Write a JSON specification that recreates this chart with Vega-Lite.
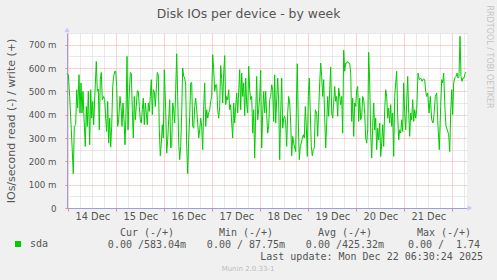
{
  "$schema": "https://vega.github.io/schema/vega-lite/v6.json",
  "width": 400,
  "height": 175,
  "autosize": {"type": "none"},
  "padding": {"left": 67, "top": 33, "right": 30, "bottom": 72},
  "background": "#f0f0f0",
  "config": {
    "view": {"fill": "white", "stroke": null},
    "font": "DejaVu Sans",
    "axis": {"labelFont": "DejaVu Sans", "titleFont": "DejaVu Sans", "labelColor": "#555555", "titleColor": "#555555", "titleFontWeight": "normal", "labelFlush": false, "labelOverlap": false}
  },
  "datasets": {
    "sda": [
      {"t":-0.65,"v":578},{"t":0.02,"v":571},{"t":0.68,"v":478},{"t":1.5,"v":335},{"t":2.5,"v":147},{"t":3.0,"v":350},{"t":3.7,"v":357},{"t":4.2,"v":507},{"t":4.7,"v":428},{"t":5.35,"v":571},{"t":5.85,"v":407},{"t":6.35,"v":536},{"t":6.85,"v":407},{"t":7.35,"v":500},{"t":7.85,"v":385},{"t":8.5,"v":264},{"t":9.0,"v":435},{"t":9.5,"v":350},{"t":10.0,"v":500},{"t":10.7,"v":271},{"t":11.2,"v":507},{"t":11.7,"v":385},{"t":12.2,"v":457},{"t":12.7,"v":357},{"t":13.35,"v":500},{"t":14.0,"v":628},{"t":14.5,"v":500},{"t":15.0,"v":510},{"t":15.5,"v":335},{"t":16.0,"v":550},{"t":16.5,"v":581},{"t":17.0,"v":464},{"t":17.7,"v":478},{"t":18.2,"v":464},{"t":18.7,"v":385},{"t":19.2,"v":328},{"t":19.7,"v":457},{"t":20.2,"v":278},{"t":20.7,"v":385},{"t":21.2,"v":261},{"t":21.7,"v":350},{"t":22.2,"v":521},{"t":22.7,"v":564},{"t":23.2,"v":586},
      {"t":23.7,"v":586},{"t":24.2,"v":521},{"t":24.7,"v":350},{"t":25.2,"v":378},{"t":25.85,"v":478},{"t":26.35,"v":435},{"t":26.85,"v":350},{"t":27.35,"v":450},{"t":27.85,"v":378},{"t":28.35,"v":271},{"t":28.85,"v":407},{"t":29.35,"v":650},{"t":29.85,"v":335},{"t":30.35,"v":464},{"t":31.0,"v":581},{"t":31.5,"v":578},{"t":32.0,"v":421},{"t":32.5,"v":300},{"t":33.0,"v":478},{"t":33.5,"v":378},{"t":34.0,"v":435},{"t":34.5,"v":503},{"t":35.0,"v":500},{"t":35.5,"v":435},{"t":36.0,"v":378},{"t":36.5,"v":364},{"t":37.0,"v":421},{"t":37.5,"v":471},{"t":38.0,"v":357},{"t":38.5,"v":450},{"t":39.0,"v":407},{"t":39.5,"v":357},{"t":40.0,"v":450},{"t":40.5,"v":414},{"t":41.0,"v":478},{"t":41.5,"v":550},{"t":42.0,"v":400},{"t":42.5,"v":507},{"t":43.0,"v":500},{"t":43.5,"v":435},{"t":44.0,"v":507},{"t":44.5,"v":581},{"t":45.0,"v":571},{"t":45.5,"v":335},{"t":46.0,"v":224},{"t":46.5,"v":278},{"t":47.0,"v":357},{"t":47.5,"v":300},{"t":48.0,"v":593},
      {"t":48.7,"v":421},{"t":49.2,"v":235},{"t":49.7,"v":292},{"t":50.2,"v":378},{"t":50.7,"v":464},{"t":51.2,"v":257},{"t":51.7,"v":264},{"t":52.2,"v":450},{"t":52.7,"v":421},{"t":53.2,"v":364},{"t":53.7,"v":507},{"t":54.2,"v":661},{"t":54.7,"v":478},{"t":55.2,"v":278},{"t":55.7,"v":207},{"t":56.2,"v":264},{"t":56.7,"v":407},{"t":57.2,"v":600},{"t":57.7,"v":564},{"t":58.2,"v":557},{"t":58.7,"v":528},{"t":59.2,"v":264},{"t":59.7,"v":147},{"t":60.2,"v":292},{"t":60.7,"v":393},{"t":61.2,"v":536},{"t":61.7,"v":538},{"t":62.2,"v":350},{"t":62.7,"v":342},{"t":63.2,"v":435},{"t":63.7,"v":471},{"t":64.2,"v":421},{"t":64.7,"v":364},{"t":65.2,"v":300},{"t":65.7,"v":335},{"t":66.2,"v":385},{"t":66.7,"v":350},{"t":67.2,"v":250},{"t":67.7,"v":435},{"t":68.2,"v":536},{"t":68.7,"v":350},{"t":69.2,"v":421},{"t":69.7,"v":385},{"t":70.2,"v":407},{"t":70.7,"v":421},{"t":71.2,"v":457},{"t":71.7,"v":478},{"t":72.2,"v":657},{"t":72.7,"v":593},{"t":73.2,"v":500},{"t":73.7,"v":528},
      {"t":74.2,"v":528},{"t":74.7,"v":421},{"t":75.2,"v":385},{"t":75.7,"v":435},{"t":76.2,"v":610},{"t":76.7,"v":550},{"t":77.2,"v":450},{"t":77.7,"v":578},{"t":78.2,"v":653},{"t":78.7,"v":443},{"t":79.2,"v":478},{"t":79.7,"v":464},{"t":80.2,"v":507},{"t":80.7,"v":421},{"t":81.2,"v":443},{"t":81.7,"v":364},{"t":82.2,"v":300},{"t":82.7,"v":450},{"t":83.2,"v":364},{"t":83.7,"v":435},{"t":84.2,"v":493},{"t":84.7,"v":407},{"t":85.2,"v":500},{"t":85.7,"v":593},{"t":86.2,"v":421},{"t":86.7,"v":578},{"t":87.2,"v":478},{"t":87.7,"v":536},{"t":88.2,"v":396},{"t":88.7,"v":557},{"t":89.2,"v":443},{"t":89.7,"v":407},{"t":90.2,"v":607},{"t":90.7,"v":507},{"t":91.2,"v":464},{"t":91.7,"v":478},{"t":92.2,"v":321},{"t":92.7,"v":421},{"t":93.2,"v":214},{"t":93.7,"v":407},{"t":94.2,"v":564},{"t":94.7,"v":378},{"t":95.2,"v":421},{"t":95.7,"v":478},{"t":96.2,"v":590},{"t":96.7,"v":257},{"t":97.2,"v":407},{"t":97.7,"v":500},{"t":98.2,"v":407},{"t":98.7,"v":500},
      {"t":99.2,"v":400},{"t":99.7,"v":321},{"t":100.2,"v":350},{"t":100.7,"v":464},{"t":101.2,"v":478},{"t":101.7,"v":528},{"t":102.2,"v":507},{"t":102.7,"v":371},{"t":103.2,"v":571},{"t":103.7,"v":364},{"t":104.2,"v":464},{"t":104.7,"v":557},{"t":105.2,"v":450},{"t":105.7,"v":207},{"t":106.2,"v":407},{"t":106.7,"v":557},{"t":107.2,"v":342},{"t":107.7,"v":385},{"t":108.2,"v":393},{"t":108.7,"v":364},{"t":109.2,"v":264},{"t":109.7,"v":407},{"t":110.2,"v":478},{"t":110.7,"v":450},{"t":111.2,"v":364},{"t":111.7,"v":224},{"t":112.2,"v":307},{"t":112.7,"v":278},{"t":113.2,"v":257},{"t":113.7,"v":242},{"t":114.2,"v":507},{"t":114.5,"v":618},{"t":115.0,"v":364},{"t":115.5,"v":207},{"t":116.0,"v":264},{"t":116.5,"v":278},{"t":117.0,"v":300},{"t":117.5,"v":314},{"t":118.0,"v":300},{"t":118.5,"v":435},{"t":119.0,"v":350},{"t":119.5,"v":221},{"t":120.0,"v":478},{"t":120.5,"v":557},{"t":121.0,"v":407},{"t":121.5,"v":264},{"t":122.0,"v":224},{"t":122.5,"v":250},{"t":123.0,"v":257},{"t":123.5,"v":421},
      {"t":124.2,"v":407},{"t":124.7,"v":307},{"t":125.2,"v":421},{"t":125.7,"v":536},{"t":126.2,"v":621},{"t":126.7,"v":564},{"t":127.2,"v":478},{"t":127.7,"v":550},{"t":128.2,"v":385},{"t":128.7,"v":257},{"t":129.2,"v":364},{"t":129.7,"v":478},{"t":130.2,"v":393},{"t":130.7,"v":507},{"t":131.2,"v":604},{"t":131.7,"v":407},{"t":132.2,"v":385},{"t":132.7,"v":450},{"t":133.2,"v":521},{"t":133.7,"v":457},{"t":134.2,"v":478},{"t":134.7,"v":393},{"t":135.2,"v":514},{"t":135.7,"v":478},{"t":136.2,"v":443},{"t":136.7,"v":478},{"t":137.2,"v":321},{"t":137.7,"v":676},{"t":138.2,"v":586},{"t":138.7,"v":621},{"t":139.2,"v":621},{"t":139.7,"v":628},{"t":140.2,"v":621},{"t":140.7,"v":621},{"t":141.2,"v":578},{"t":141.7,"v":371},{"t":142.2,"v":471},{"t":142.7,"v":307},{"t":143.2,"v":450},{"t":143.7,"v":435},{"t":144.2,"v":507},{"t":144.7,"v":521},{"t":145.2,"v":371},{"t":145.7,"v":471},{"t":146.2,"v":378},{"t":146.7,"v":393},{"t":147.2,"v":478},{"t":147.7,"v":464},{"t":148.2,"v":407},
      {"t":148.7,"v":300},{"t":149.2,"v":278},{"t":149.7,"v":335},{"t":150.2,"v":667},{"t":150.7,"v":536},{"t":151.2,"v":321},{"t":151.7,"v":214},{"t":152.2,"v":350},{"t":152.7,"v":450},{"t":153.2,"v":335},{"t":153.7,"v":385},{"t":154.2,"v":250},{"t":154.7,"v":342},{"t":155.2,"v":292},{"t":155.7,"v":364},{"t":156.2,"v":221},{"t":156.7,"v":278},{"t":157.2,"v":357},{"t":157.7,"v":264},{"t":158.2,"v":421},{"t":158.7,"v":507},{"t":159.2,"v":478},{"t":159.7,"v":385},{"t":160.2,"v":428},{"t":160.7,"v":364},{"t":161.2,"v":443},{"t":161.7,"v":350},{"t":162.2,"v":407},{"t":162.7,"v":221},{"t":163.2,"v":478},{"t":163.7,"v":536},{"t":164.2,"v":586},{"t":164.7,"v":393},{"t":165.2,"v":292},{"t":165.7,"v":335},{"t":166.2,"v":321},{"t":166.7,"v":378},{"t":167.2,"v":328},{"t":167.7,"v":536},{"t":168.2,"v":407},{"t":168.7,"v":335},{"t":169.2,"v":450},{"t":169.7,"v":564},{"t":170.2,"v":407},{"t":170.7,"v":307},{"t":171.2,"v":407},{"t":171.7,"v":378},{"t":172.2,"v":464},{"t":172.7,"v":371},{"t":173.2,"v":421},{"t":173.7,"v":385},{"t":174.2,"v":421},
      {"t":174.85,"v":578},{"t":175.5,"v":550},{"t":176.2,"v":557},{"t":176.85,"v":543},{"t":177.5,"v":553},{"t":178.2,"v":550},{"t":178.7,"v":500},{"t":179.2,"v":478},{"t":179.7,"v":493},{"t":180.35,"v":407},{"t":181.0,"v":478},{"t":181.7,"v":378},{"t":182.35,"v":364},{"t":182.85,"v":400},{"t":183.5,"v":478},{"t":184.2,"v":493},{"t":184.85,"v":350},{"t":185.5,"v":250},{"t":186.2,"v":435},{"t":186.7,"v":550},{"t":187.2,"v":536},{"t":187.7,"v":578},{"t":188.35,"v":421},{"t":188.85,"v":350},{"t":189.5,"v":335},{"t":190.2,"v":314},{"t":190.7,"v":242},{"t":191.2,"v":407},{"t":191.7,"v":507},{"t":192.2,"v":400},{"t":192.7,"v":536},{"t":193.2,"v":557},{"t":193.85,"v":564},{"t":194.35,"v":578},{"t":194.85,"v":557},{"t":195.35,"v":564},{"t":195.85,"v":736},{"t":196.35,"v":564},{"t":196.85,"v":543},{"t":197.35,"v":557},{"t":197.85,"v":557},{"t":198.35,"v":576},{"t":198.85,"v":583}
    ],
    "legendTable": [
      {"line": "head", "col": "Cur", "label": "Cur (-/+)"},
      {"line": "head", "col": "Min", "label": "Min (-/+)"},
      {"line": "head", "col": "Avg", "label": "Avg (-/+)"},
      {"line": "head", "col": "Max", "label": "Max (-/+)"},
      {"line": "vals", "col": "Cur", "label": "0.00 /583.04m"},
      {"line": "vals", "col": "Min", "label": "0.00 / 87.75m"},
      {"line": "vals", "col": "Avg", "label": "0.00 /425.32m"},
      {"line": "vals", "col": "Max", "label": "0.00 / \u00a01.74"},
      {"line": "update", "col": "Max", "label": "Last update: Mon Dec 22 06:30:24 2025"},
      {"line": "version", "col": "Min", "label": "Munin 2.0.33-1"}
    ]
  },
  "layer": [
    {
      "layer": [
        {
          "data": {"name": "sda"},
          "mark": {"type": "line", "strokeWidth": 1, "interpolate": "linear"},
          "encoding": {
            "x": {
              "field": "t", "type": "quantitative",
              "scale": {"domain": [-0.65, 199.35], "nice": false, "zero": false},
              "axis": {
                "orient": "bottom", "title": null,
                "values": [0, 24, 48, 72, 96, 120, 144, 168, 192],
                "labelExpr": "datum.value < 190 ? (14 + datum.value / 24) + ' Dec' : ''",
                "labelOffset": 24, "labelFontSize": 9.8, "labelBaseline": "top", "labelPadding": 0,
                "tickSize": 3, "tickColor": "#ee8888",
                "domainColor": "#9f9fd0",
                "grid": true, "gridColor": "#f3a6a6", "gridDash": [1, 1]
              }
            },
            "y": {
              "field": "v", "type": "quantitative",
              "scale": {"domain": [0, 750], "nice": false},
              "axis": {
                "orient": "left",
                "title": "IOs/second read (-) / write (+)", "titleFontSize": 11, "titleX": -56, "titleBaseline": "middle",
                "values": [0, 100, 200, 300, 400, 500, 600, 700],
                "labelExpr": "datum.value == 0 ? '0' : datum.value + ' m'",
                "labelFontSize": 8.7, "labelPadding": 9, "labelBaseline": "middle",
                "tickSize": 2, "tickColor": "#ee8888",
                "domainColor": "#9f9fd0",
                "grid": true, "gridColor": "#f3a6a6", "gridDash": [1, 1]
              }
            },
            "color": {
              "datum": "sda", "type": "nominal",
              "scale": {"domain": ["sda"], "range": ["#00cc00"]},
              "legend": {
                "orient": "none", "legendX": -54, "legendY": 206, "title": null,
                "symbolType": "square", "symbolSize": 36, "symbolStrokeWidth": 0, "symbolFillColor": "#00cc00",
                "labelFont": "DejaVu Sans Mono", "labelFontSize": 10, "labelColor": "#555555", "labelOffset": 7, "padding": 0
              }
            }
          }
        },
        {
          "data": {"values": [{}]},
          "mark": {"type": "point", "shape": "triangle-up", "filled": true, "size": 30, "color": "#c8c8ff", "opacity": 1},
          "encoding": {
            "x": {
              "datum": -0.65, "type": "quantitative",
              "scale": {"domain": [-0.65, 199.35], "nice": false, "zero": false},
              "axis": {
                "orient": "top", "labels": false, "ticks": false, "domain": false,
                "values": [6, 12, 18, 30, 36, 42, 54, 60, 66, 78, 84, 90, 102, 108, 114, 126, 132, 138, 150, 156, 162, 174, 180, 186, 198],
                "grid": true, "gridColor": "#d2d2d2", "gridDash": [1, 1],
                "title": "Disk IOs per device - by week", "titleFontSize": 12.4, "titleX": 181, "titleY": -16,
                "titleAlign": "center", "titleBaseline": "alphabetic", "titleAngle": 0
              }
            },
            "y": {
              "datum": 763, "type": "quantitative",
              "scale": {"domain": [0, 750], "nice": false},
              "axis": {
                "orient": "right", "labels": false, "ticks": false, "domain": false,
                "values": [50, 150, 250, 350, 450, 550, 650, 750],
                "grid": true, "gridColor": "#d2d2d2", "gridDash": [1, 1],
                "title": "RRDTOOL / TOBI OETIKER", "titleFontSize": 8, "titleColor": "#c4c4c4",
                "titleAngle": 90, "titleX": 21, "titleY": -28, "titleAlign": "left", "titleBaseline": "middle"
              }
            }
          }
        },
        {
          "data": {"values": [{}]},
          "mark": {"type": "point", "shape": "triangle-right", "filled": true, "size": 30, "color": "#c8c8ff", "opacity": 1},
          "encoding": {
            "x": {"datum": 200.85, "type": "quantitative", "scale": {"domain": [-0.65, 199.35], "nice": false, "zero": false}, "axis": null},
            "y": {"datum": 0, "type": "quantitative", "scale": {"domain": [0, 750], "nice": false}, "axis": null}
          }
        }
      ],
      "resolve": {"axis": {"x": "independent", "y": "independent"}}
    },
    {
      "data": {"name": "legendTable"},
      "encoding": {
        "x": {"field": "col", "type": "nominal", "scale": {"type": "point", "domain": ["Cur", "Min", "Avg", "Max"], "range": [80, 377], "padding": 0}, "axis": null},
        "y": {"field": "line", "type": "nominal", "scale": {"type": "point", "domain": ["head", "vals", "update", "version"], "range": [200.3, 236.3], "padding": 0}, "axis": null},
        "text": {"field": "label", "type": "nominal"}
      },
      "layer": [
        {
          "transform": [{"filter": "datum.line == 'head' || datum.line == 'vals'"}],
          "mark": {"type": "text", "font": "DejaVu Sans Mono", "fontSize": 10, "color": "#555555", "align": "center", "baseline": "middle"}
        },
        {
          "transform": [{"filter": "datum.line == 'update'"}],
          "mark": {"type": "text", "font": "DejaVu Sans Mono", "fontSize": 10, "color": "#555555", "align": "right", "baseline": "middle", "dx": 39}
        },
        {
          "transform": [{"filter": "datum.line == 'version'"}],
          "mark": {"type": "text", "font": "DejaVu Sans", "fontSize": 7, "color": "#bbbbbb", "align": "center", "baseline": "middle", "dx": 2}
        }
      ]
    }
  ],
  "resolve": {"scale": {"x": "independent", "y": "independent"}}
}
